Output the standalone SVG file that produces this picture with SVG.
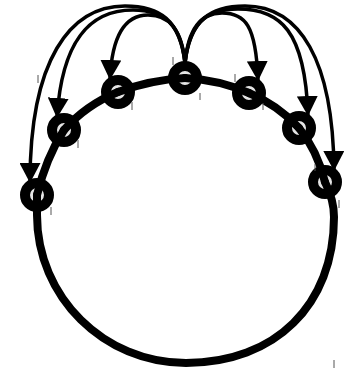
<svg xmlns="http://www.w3.org/2000/svg" width="350" height="372" viewBox="0 0 350 372">
<style>
.node{fill:#e5e5e5;stroke:#000;stroke-width:10}
.ring{fill:none;stroke:#000;stroke-width:8;stroke-linecap:round}
.arc{fill:none;stroke:#000;stroke-width:3.5}
.tick{stroke:#555;stroke-width:1}
</style>
<defs>
<marker id="ah" markerUnits="userSpaceOnUse" markerWidth="21" markerHeight="21" viewBox="0 0 21 21" refX="19" refY="10.5" orient="auto">
<path d="M0,0 L20,10.5 L0,21 z" fill="#000"/>
</marker>
</defs>
<g id="n1"><circle class="node" cx="185" cy="78" r="12"/></g>
<g id="n2"><circle class="node" cx="118" cy="92" r="12"/></g>
<g id="n3"><circle class="node" cx="64" cy="130" r="12"/></g>
<g id="n4"><circle class="node" cx="37" cy="195" r="12"/></g>
<g id="n5"><circle class="node" cx="249" cy="93" r="12"/></g>
<g id="n6"><circle class="node" cx="299" cy="128" r="12"/></g>
<g id="n7"><circle class="node" cx="325" cy="182" r="12"/></g>
<g id="connectors">
<path class="ring" d="M37,195 Q46,158 64,130"/>
<path class="ring" d="M64,130 Q86,105 118,92"/>
<path class="ring" d="M118,92 Q150,80 185,78"/>
<path class="ring" d="M185,78 Q220,80 249,93"/>
<path class="ring" d="M249,93 Q278,105 299,128"/>
<path class="ring" d="M299,128 Q317,150 325,182"/>
<path class="ring" d="M325,182 C330,192 334,203 334,217 C334,305 275,363 186,363 C104,363 37,297 37,215 L37,195"/>
<path class="arc" marker-end="url(#ah)" d="M185,63 C182,30 170,15 148,15 C125,15 112,35 110,79"/>
<path class="arc" marker-end="url(#ah)" d="M185,63 C181,25 165,10 133,10 C90,10 62,40 57,117"/>
<path class="arc" marker-end="url(#ah)" d="M185,63 C180,20 160,6 125,6 C70,6 30,60 30,182"/>
<path class="arc" marker-end="url(#ah)" d="M185,63 C188,30 200,13 222,13 C245,13 256,25 258,80"/>
<path class="arc" marker-end="url(#ah)" d="M185,63 C189,25 205,9 238,9 C280,9 305,30 308,115"/>
<path class="arc" marker-end="url(#ah)" d="M185,63 C190,20 210,6 245,6 C300,6 333,60 334,170"/>
</g>
<g id="ticks">
<line class="tick" x1="173" y1="57" x2="173" y2="65"/>
<line class="tick" x1="200" y1="93" x2="200" y2="100"/>
<line class="tick" x1="132" y1="102" x2="132" y2="110"/>
<line class="tick" x1="78" y1="140" x2="78" y2="148"/>
<line class="tick" x1="51" y1="207" x2="51" y2="215"/>
<line class="tick" x1="38" y1="75" x2="38" y2="83"/>
<line class="tick" x1="235" y1="74" x2="235" y2="82"/>
<line class="tick" x1="263" y1="103" x2="263" y2="110"/>
<line class="tick" x1="315" y1="164" x2="315" y2="171"/>
<line class="tick" x1="339" y1="200" x2="339" y2="208"/>
<line class="tick" x1="334" y1="360" x2="334" y2="368"/>
</g>
</svg>
